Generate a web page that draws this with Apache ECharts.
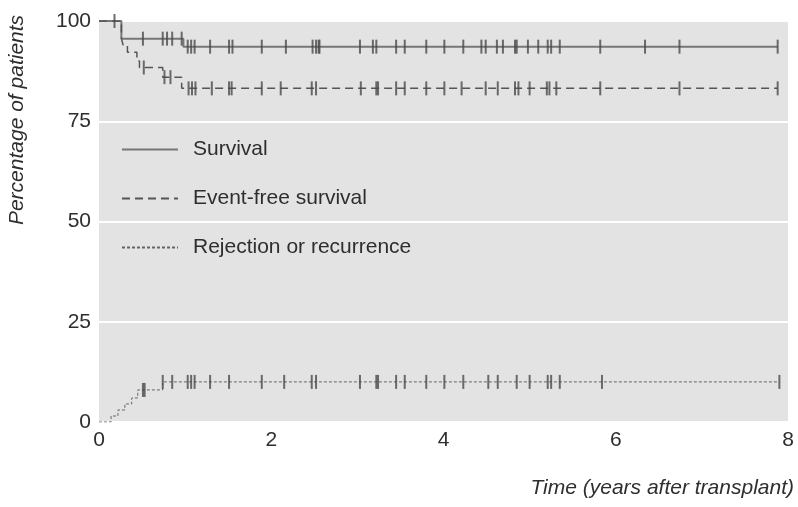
<!DOCTYPE html>
<html>
<head>
<meta charset="UTF-8">
<title>Survival after transplant</title>
<script src="https://cdn.jsdelivr.net/npm/echarts@6/dist/echarts.min.js"></script>
<style>
  html, body { margin: 0; padding: 0; background: #fff; }
  #main { width: 798px; height: 507px; }
</style>
</head>
<body>
<div id="main"></div>
<script>
// step curves: time (years) where the value changes, and the new value (%)
var survivalT = [0, 0.26, 0.98, 7.88];
var survivalV = [100, 95.6, 93.6, 93.6];

var efsT = [0, 0.26, 0.28, 0.33, 0.44, 0.47, 0.74, 0.96, 7.88];
var efsV = [100, 95.6, 94, 92.2, 90, 88.4, 86, 83.2, 83.2];

var rejT = [0, 0.14, 0.22, 0.30, 0.38, 0.45, 0.74, 7.9];
var rejV = [0, 1.5, 3, 4.5, 6, 8, 10, 10];

// censored observations (years)
var survivalCens = [0.18, 0.51, 0.74, 0.79, 0.85, 0.96, 1.03, 1.07, 1.11, 1.29, 1.51, 1.55,
  1.89, 2.17, 2.48, 2.52, 2.55, 2.56, 3.03, 3.18, 3.22, 3.45, 3.55, 3.80, 4.01, 4.23, 4.44,
  4.49, 4.62, 4.69, 4.83, 4.85, 4.98, 5.10, 5.21, 5.25, 5.35, 5.82, 6.34, 6.74, 7.88];
var efsCens = [0.52, 0.76, 0.83, 1.04, 1.08, 1.12, 1.31, 1.51, 1.54, 1.89, 2.11, 2.47, 2.52,
  3.04, 3.22, 3.24, 3.45, 3.55, 3.80, 4.01, 4.21, 4.49, 4.63, 4.83, 4.87, 5.00, 5.20, 5.23,
  5.31, 5.82, 6.74, 7.88];
var rejCens = [0.51, 0.53, 0.74, 0.85, 1.03, 1.07, 1.11, 1.29, 1.51, 1.89, 2.15, 2.47, 2.52,
  3.03, 3.22, 3.24, 3.45, 3.55, 3.80, 4.01, 4.23, 4.52, 4.63, 4.85, 5.00, 5.21, 5.25, 5.35,
  5.84, 7.90];

var yTicks = [0, 25, 50, 75, 100];
var xTicks = [0, 2, 4, 6, 8];

var FONT = 'Liberation Sans';
var TEXT = '#2e2e2e';

function pairs(t, v) {
  return t.map(function (x, i) { return [x, v[i]]; });
}
// value of a step curve at time x
function valueAt(t, v, x) {
  var y = v[0];
  for (var i = 0; i < t.length; i++) {
    if (t[i] <= x) y = v[i];
  }
  return y;
}
function censPoints(cens, t, v) {
  return cens.map(function (x) { return [x, valueAt(t, v, x)]; });
}

function tickSeries(name, data) {
  return {
    name: name,
    type: 'scatter',
    data: data,
    symbol: 'rect',
    symbolSize: [2, 14],
    itemStyle: { color: '#4a4a4a' },
    silent: true,
    z: 4
  };
}

var myChart = echarts.init(document.getElementById('main'));

myChart.setOption({
  animation: false,
  grid: {
    left: 99, right: 10, top: 21, bottom: 85,
    show: true,
    backgroundColor: '#e3e3e3',
    borderWidth: 0
  },
  legend: {
    data: ['Survival', 'Event-free survival', 'Rejection or recurrence'],
    orient: 'vertical',
    left: 116,
    top: 134,
    itemWidth: 56,
    itemHeight: 20,
    itemGap: 28,
    itemStyle: { opacity: 0 },
    textStyle: {
      fontFamily: FONT, fontSize: 21, color: TEXT,
      padding: [0, 0, 0, 10]
    }
  },
  xAxis: {
    type: 'value',
    min: 0, max: 8, interval: 2,
    axisLine: { show: false },
    axisTick: { show: false },
    splitLine: { show: false },
    axisLabel: {
      fontFamily: FONT, fontSize: 21, color: TEXT, margin: 8,
      customValues: xTicks
    }
  },
  yAxis: {
    type: 'value',
    min: 0, max: 100, interval: 25,
    axisLine: { show: false },
    axisTick: { show: false },
    splitLine: { show: true, lineStyle: { color: '#ffffff', width: 2 } },
    axisLabel: {
      fontFamily: FONT, fontSize: 21, color: TEXT, margin: 8,
      customValues: yTicks
    }
  },
  graphic: [
    {
      type: 'text',
      x: 17, y: 120,
      rotation: Math.PI / 2,
      style: {
        text: 'Percentage of patients',
        fontFamily: FONT, fontSize: 21, fontStyle: 'italic', fill: TEXT,
        textAlign: 'center', textVerticalAlign: 'middle'
      }
    },
    {
      type: 'text',
      right: 4, top: 478,
      style: {
        text: 'Time (years after transplant)',
        fontFamily: FONT, fontSize: 21, fontStyle: 'italic', fill: TEXT
      }
    }
  ],
  series: [
    {
      name: 'Survival',
      type: 'line',
      step: 'end',
      data: pairs(survivalT, survivalV),
      symbol: 'none',
      lineStyle: { color: '#777', width: 2 },
      itemStyle: { color: '#777' },
      z: 3
    },
    {
      name: 'Event-free survival',
      type: 'line',
      step: 'end',
      data: pairs(efsT, efsV),
      symbol: 'none',
      lineStyle: { color: '#555', width: 1.5, type: [8, 5] },
      itemStyle: { color: '#555' },
      z: 3
    },
    {
      name: 'Rejection or recurrence',
      type: 'line',
      step: 'end',
      data: pairs(rejT, rejV),
      symbol: 'none',
      lineStyle: { color: '#666', width: 1, type: [3, 2] },
      itemStyle: { color: '#666' },
      z: 3
    },
    tickSeries('survival censored', censPoints(survivalCens, survivalT, survivalV)),
    tickSeries('efs censored', censPoints(efsCens, efsT, efsV)),
    tickSeries('rejection censored', censPoints(rejCens, rejT, rejV))
  ]
});
</script>
</body>
</html>
